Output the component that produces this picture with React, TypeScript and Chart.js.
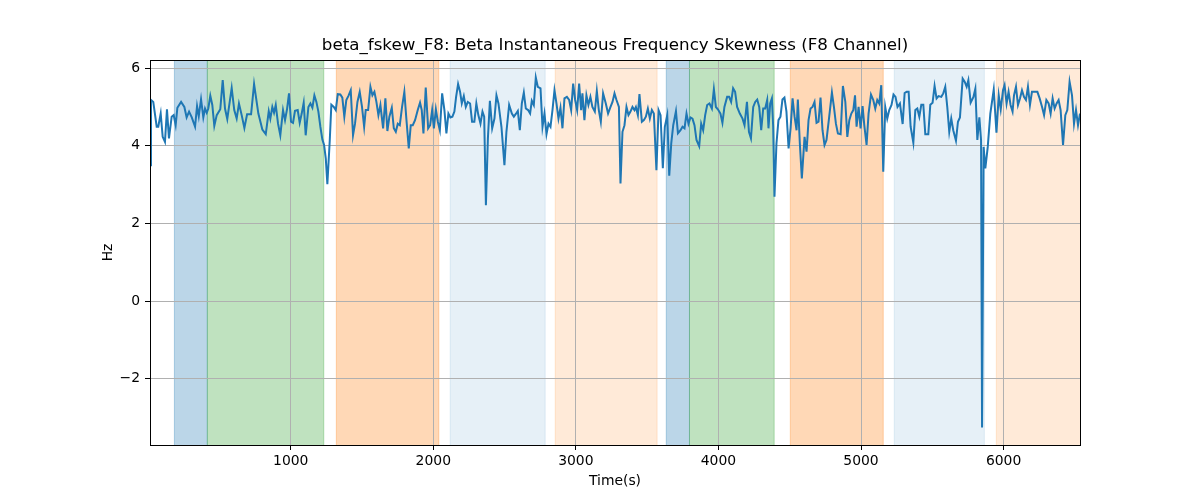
import React, { useEffect, useRef } from "react";
import { Chart, registerables } from "chart.js";

Chart.register(...registerables);

const titleText = "beta_fskew_F8: Beta Instantaneous Frequency Skewness (F8 Channel)";
const xLabel = "Time(s)";
const yLabel = "Hz";

const times = [
  13, 20, 36, 60, 71, 88, 102, 118, 132, 146, 165, 179, 193, 205, 231, 254, 270, 287, 306, 329, 343, 355, 371, 387, 399, 411, 422, 436, 450, 464, 481, 506, 523, 539, 555, 586, 604, 621, 637, 656, 675, 694, 722, 743, 773, 801,
  825, 846, 857, 871, 883, 895, 911, 927, 946, 960, 974, 988, 1002, 1016, 1030, 1049, 1063, 1077, 1091, 1105, 1124, 1138, 1152, 1166, 1180, 1194, 1208, 1222, 1234, 1246, 1257, 1274, 1285, 1302, 1316, 1330, 1348, 1362, 1376, 1390, 1404, 1421, 1437, 1451, 1468, 1484, 1500, 1515, 1526, 1543, 1559, 1573, 1587, 1601, 1615, 1629,
  1648, 1664, 1678, 1692, 1709, 1723, 1737, 1751, 1765, 1781, 1797, 1811, 1828, 1842, 1856, 1872, 1891, 1907, 1919, 1931, 1947, 1964, 1978, 1992, 2004, 2018, 2032, 2046, 2062, 2078, 2092, 2106, 2120, 2134, 2148, 2160, 2174, 2188, 2200, 2214, 2228, 2242, 2258, 2272, 2288, 2302, 2316, 2331, 2345, 2357, 2369, 2383, 2397, 2413, 2429, 2443, 2457,
  2478, 2499, 2513, 2532, 2551, 2565, 2579, 2593, 2607, 2621, 2635, 2649, 2665, 2679, 2691, 2705, 2719, 2733, 2752, 2766, 2780, 2794, 2808, 2822, 2836, 2850, 2864, 2878, 2892, 2906, 2920, 2937, 2953, 2967, 2981, 2995, 3009, 3023, 3037, 3046, 3060, 3074, 3088, 3102, 3116, 3133, 3147, 3161, 3175, 3191, 3210, 3226, 3243, 3257, 3271, 3285,
  3302, 3313, 3327, 3341, 3355, 3369, 3383, 3397, 3411, 3421, 3435, 3446, 3463, 3477, 3491, 3505, 3519, 3533, 3547, 3565, 3580, 3594, 3610, 3624, 3641, 3655, 3669, 3683, 3702, 3716, 3734, 3748, 3762, 3776, 3790, 3804, 3818, 3832, 3846, 3865, 3879, 3893, 3907, 3921, 3937, 3954, 3968, 3982, 3996, 4014, 4028, 4042, 4061, 4075, 4089, 4103, 4117,
  4131, 4150, 4169, 4183, 4200, 4214, 4228, 4244, 4258, 4272, 4286, 4300, 4314, 4328, 4342, 4351, 4363, 4375, 4384, 4393, 4407, 4421, 4435, 4449, 4463, 4477, 4492, 4506, 4520, 4534, 4548, 4557, 4571, 4585, 4604, 4618, 4632, 4646, 4660, 4674, 4688, 4702, 4716, 4730, 4744, 4758, 4777, 4796, 4810, 4824, 4838, 4857, 4873, 4890, 4904, 4918, 4932, 4946,
  4958, 4969, 4983, 4997, 5011, 5023, 5039, 5053, 5070, 5086, 5100, 5114, 5128, 5142, 5156, 5170, 5184, 5198, 5214, 5228, 5242, 5256, 5273, 5292, 5306, 5320, 5334, 5348, 5367, 5381, 5395, 5409, 5423, 5437, 5451, 5472, 5486, 5502, 5516, 5530, 5544, 5563, 5577, 5591, 5605, 5619, 5633, 5647, 5666, 5680, 5694, 5713, 5727, 5741, 5753, 5769,
  5788, 5802, 5816, 5830, 5842, 5849, 5860, 5872, 5889, 5907, 5931, 5950, 5966, 5980, 5996, 6007, 6021, 6035, 6049, 6063, 6073, 6087, 6101, 6115, 6129, 6143, 6157, 6171, 6185, 6199, 6218, 6237, 6253, 6270, 6284, 6300, 6316, 6330, 6344, 6358, 6372, 6386, 6400, 6417, 6433, 6447, 6463, 6480, 6494, 6508, 6522, 6536,
];

const values = [
  3.5, 5.18, 5.13, 4.49, 4.49, 4.83, 4.23, 4.1, 4.94, 4.19, 4.75, 4.79, 4.53, 4.98, 5.13, 5.0, 4.73, 4.88, 4.73, 4.49, 5.02, 4.76, 5.2, 4.73, 4.96, 4.85, 4.96, 5.29, 5.05, 4.51, 4.79, 4.94, 5.69, 4.96, 4.69, 5.49, 4.92, 4.7, 5.09, 4.79, 4.46, 4.81, 4.81, 5.59, 4.83, 4.42,
  4.3, 4.89, 4.7, 5.0, 4.85, 5.05, 4.57, 4.27, 4.92, 4.66, 4.94, 5.35, 4.62, 4.59, 4.9, 4.92, 4.59, 4.83, 5.11, 4.27, 5.0, 5.09, 4.98, 5.3, 5.13, 4.88, 4.49, 4.16, 4.02, 3.67, 3.01, 4.15, 5.06, 5.0, 4.92, 5.33, 5.32, 5.24, 4.75, 5.18, 5.28, 5.43, 4.27, 4.57, 5.13, 5.39, 5.0, 4.49, 4.92, 4.92, 5.52, 5.3, 5.39, 5.13, 4.79, 5.05,
  4.45, 5.22, 4.38, 4.75, 4.98, 4.45, 4.36, 4.57, 4.53, 5.0, 5.39, 4.7, 3.93, 4.53, 4.53, 4.66, 4.92, 5.11, 4.92, 4.32, 5.5, 4.45, 4.53, 4.92, 4.45, 4.94, 4.62, 4.4, 5.35, 4.92, 4.32, 4.83, 4.73, 4.75, 4.88, 5.26, 5.59, 5.39, 5.09, 5.28, 5.0, 5.13, 5.09, 4.62, 4.62, 5.09, 4.79, 4.57, 4.88, 4.75, 2.47, 4.19, 5.16, 4.45, 4.7, 5.3, 5.09,
  4.49, 3.5, 4.36, 5.05, 4.83, 4.75, 4.82, 4.9, 4.4, 5.09, 5.37, 4.96, 4.92, 4.83, 5.16, 5.05, 5.76, 5.52, 5.48, 4.49, 4.83, 4.3, 4.57, 4.49, 4.92, 5.43, 5.09, 4.7, 4.98, 4.45, 5.22, 5.26, 5.18, 4.92, 5.6, 5.18, 4.92, 5.6, 4.92, 5.35, 4.66, 5.3, 5.05, 5.26, 5.0, 4.88, 5.41, 4.92, 4.62, 5.35, 5.09, 4.83, 5.0, 5.13, 5.35, 5.18,
  5.0, 3.03, 4.36, 4.53, 5.0, 4.79, 4.88, 5.0, 4.92, 5.0, 4.79, 5.33, 4.62, 4.66, 4.75, 4.96, 4.7, 4.92, 4.83, 3.37, 4.92, 4.79, 3.42, 4.49, 4.79, 3.23, 4.06, 4.53, 4.89, 4.32, 4.4, 4.49, 4.45, 4.83, 4.57, 4.73, 4.7, 4.53, 4.15, 3.99, 4.57, 4.4, 4.79, 5.05, 5.09, 4.96, 5.46, 5.0, 4.94, 4.83, 4.59, 5.0, 5.26, 5.26, 5.13, 5.48, 5.39,
  5.0, 4.83, 4.7, 4.53, 5.13, 4.36, 4.19, 5.0, 5.13, 5.19, 5.0, 4.4, 4.96, 4.96, 5.18, 4.45, 5.09, 5.22, 4.49, 2.69, 4.06, 4.66, 4.75, 5.19, 5.24, 4.88, 3.93, 4.45, 5.22, 4.75, 4.4, 5.19, 4.06, 3.16, 4.23, 3.85, 4.66, 4.96, 5.0, 5.13, 4.59, 4.62, 5.24, 4.4, 4.02, 4.15, 4.75, 5.37, 5.0, 4.57, 4.32, 4.3, 5.54, 5.13, 4.23, 4.66, 4.83, 4.92,
  5.3, 4.49, 5.0, 4.45, 5.02, 4.53, 4.02, 4.83, 5.32, 5.18, 4.96, 5.18, 5.09, 5.56, 3.33, 5.0, 4.7, 4.92, 5.05, 5.32, 5.26, 5.0, 5.09, 4.56, 5.36, 5.39, 5.39, 4.49, 4.08, 4.92, 4.96, 4.75, 5.06, 5.06, 4.3, 4.3, 5.06, 5.11, 5.54, 5.22, 5.28, 5.26, 5.35, 5.52, 5.0, 4.36, 4.7, 4.4, 4.13, 4.62, 4.73, 5.73, 5.65, 5.52, 5.69, 5.11,
  5.25, 5.47, 4.15, 4.73, 4.15, -3.26, 3.97, 3.42, 3.97, 4.83, 5.45, 4.34, 5.3, 4.94, 5.43, 5.56, 5.09, 5.39, 5.05, 4.88, 5.3, 5.52, 5.05, 5.22, 5.43, 5.26, 5.18, 5.52, 5.05, 5.39, 5.39, 5.39, 5.22, 5.0, 4.79, 5.18, 5.09, 4.83, 5.22, 4.96, 5.09, 5.18, 4.92, 4.02, 4.79, 4.92, 5.65, 5.3, 4.57, 4.92, 4.53, 4.83,
];

const spanStarts = [184, 415, 1320, 2118, 2855, 3634, 3797, 4504, 5233, 5949];
const spanEnds = [415, 1232, 2039, 2785, 3570, 3797, 4391, 5156, 5865, 6540];
const spanColors = [
  "rgba(31,119,180,0.3)",
  "rgba(44,160,44,0.3)",
  "rgba(255,127,14,0.3)",
  "rgba(31,119,180,0.11)",
  "rgba(255,127,14,0.16)",
  "rgba(31,119,180,0.3)",
  "rgba(44,160,44,0.3)",
  "rgba(255,127,14,0.3)",
  "rgba(31,119,180,0.11)",
  "rgba(255,127,14,0.16)",
];

const xTicks = [1000, 2000, 3000, 4000, 5000, 6000];
const yTicks = [-2, 0, 2, 4, 6];
const xMin = 13;
const xMax = 6536;
const yMin = -3.71;
const yMax = 6.21;

const FONT = "'DejaVu Sans', sans-serif";

const spanPlugin = {
  id: "spans",
  beforeDraw(chart: any) {
    const { ctx, chartArea, scales } = chart;
    const x = scales.x;
    ctx.save();
    ctx.beginPath();
    ctx.rect(chartArea.left, chartArea.top, chartArea.right - chartArea.left, chartArea.bottom - chartArea.top);
    ctx.clip();
    spanStarts.forEach((s, i) => {
      const x0 = x.getPixelForValue(s);
      const x1 = x.getPixelForValue(spanEnds[i]);
      ctx.fillStyle = spanColors[i];
      ctx.fillRect(x0, chartArea.top, x1 - x0, chartArea.bottom - chartArea.top);
      ctx.strokeStyle = spanColors[i];
      ctx.lineWidth = 1;
      ctx.beginPath();
      ctx.moveTo(x0, chartArea.top);
      ctx.lineTo(x0, chartArea.bottom);
      ctx.moveTo(x1, chartArea.top);
      ctx.lineTo(x1, chartArea.bottom);
      ctx.stroke();
    });
    ctx.restore();
  },
  afterDraw(chart: any) {
    const { ctx, chartArea } = chart;
    ctx.save();
    ctx.strokeStyle = "#000";
    ctx.lineWidth = 1;
    const l = Math.round(chartArea.left) + 0.5;
    const t = Math.round(chartArea.top) + 0.5;
    const r = Math.round(chartArea.right) + 0.5;
    const b = Math.round(chartArea.bottom) + 0.5;
    ctx.strokeRect(l, t, r - l, b - t);
    ctx.fillStyle = "#000";
    ctx.textAlign = "center";
    ctx.textBaseline = "middle";
    ctx.font = `16.7px ${FONT}`;
    const cx = (chartArea.left + chartArea.right) / 2;
    ctx.fillText(titleText, cx, 46);
    ctx.font = `13.9px ${FONT}`;
    ctx.fillText(xLabel, cx, 481);
    ctx.save();
    ctx.translate(108, (chartArea.top + chartArea.bottom) / 2);
    ctx.rotate(-Math.PI / 2);
    ctx.fillText(yLabel, 0, 0);
    ctx.restore();
    ctx.restore();
  },
};

export default function App() {
  const ref = useRef<HTMLCanvasElement | null>(null);
  useEffect(() => {
    if (!ref.current) return;
    const data = times.map((t, i) => ({ x: t, y: values[i] }));
    const chart = new Chart(ref.current, {
      type: "line",
      data: {
        datasets: [
          {
            data,
            borderColor: "#1f77b4",
            borderWidth: 2,
            pointRadius: 0,
            fill: false,
            tension: 0,
          },
        ],
      },
      options: {
        responsive: false,
        animation: false,
        events: [],
        layout: { padding: { top: 60, right: 120, bottom: 0, left: 0 } },
        plugins: { legend: { display: false }, tooltip: { enabled: false }, title: { display: false } },
        scales: {
          x: {
            type: "linear",
            min: xMin,
            max: xMax,
            afterBuildTicks: (s: any) => {
              s.ticks = xTicks.map((v) => ({ value: v }));
            },
            afterFit: (s: any) => {
              s.height = 55;
            },
            grid: { color: "#b0b0b0", lineWidth: 1, tickColor: "#000", tickLength: 5, drawTicks: true },
            border: { display: false },
            ticks: {
              color: "#000",
              font: { family: FONT, size: 13.9 },
              padding: 3,
              maxRotation: 0,
              autoSkip: false,
              callback: (v: any) => String(v),
            },
          },
          y: {
            type: "linear",
            min: yMin,
            max: yMax,
            afterBuildTicks: (s: any) => {
              s.ticks = yTicks.map((v) => ({ value: v }));
            },
            afterFit: (s: any) => {
              s.width = 150;
            },
            grid: { color: "#b0b0b0", lineWidth: 1, tickColor: "#000", tickLength: 5, drawTicks: true },
            border: { display: false },
            ticks: {
              color: "#000",
              font: { family: FONT, size: 13.9 },
              padding: 5,
              autoSkip: false,
              callback: (v: any) => (v < 0 ? "\u2212" + Math.abs(v) : String(v)),
            },
          },
        },
      },
      plugins: [spanPlugin],
    });
    return () => chart.destroy();
  }, []);
  return (
    <div style={{ position: "absolute", left: 0, top: 0, width: 1200, height: 500, background: "#fff" }}>
      <canvas ref={ref} width={1200} height={500} style={{ display: "block" }} />
    </div>
  );
}
